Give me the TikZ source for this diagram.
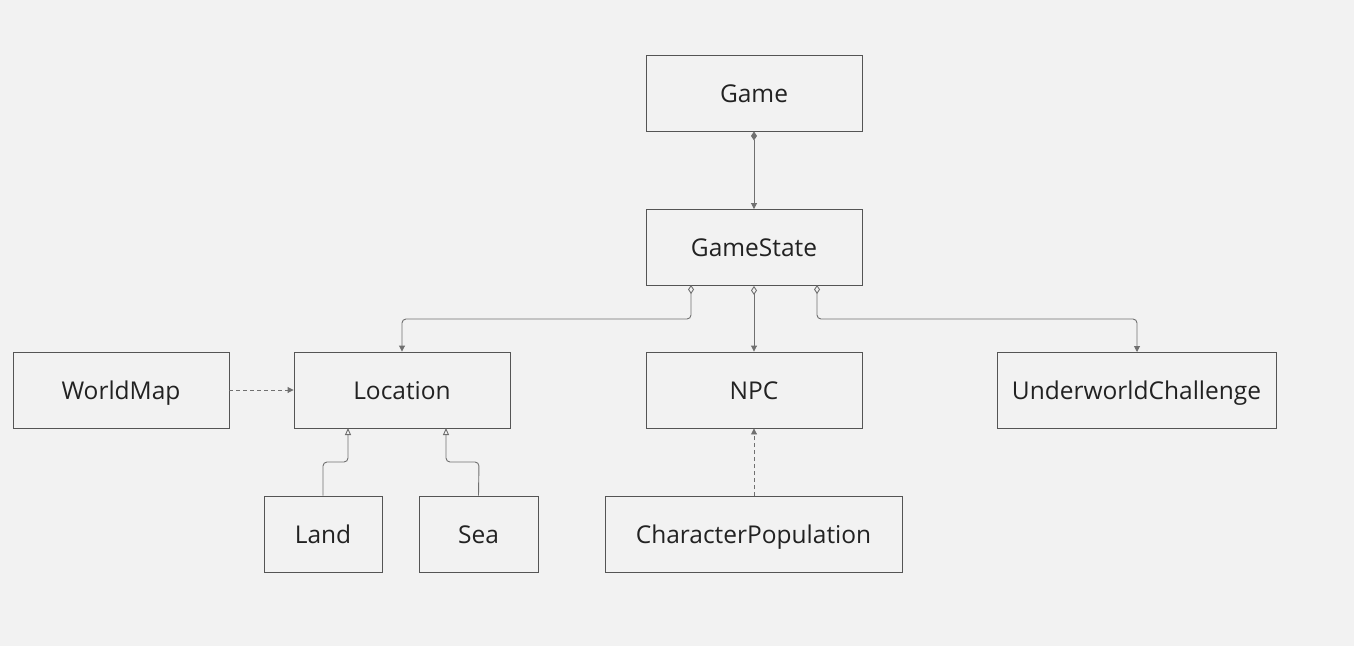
\documentclass[tikz,border=0pt]{standalone}
\usepackage{fontspec}
\setmainfont{Open Sans}
\usetikzlibrary{arrows.meta}
\definecolor{bg}{HTML}{F2F2F2}
\definecolor{boxline}{HTML}{555555}
\definecolor{conn}{HTML}{707070}
\definecolor{txt}{HTML}{222222}
\begin{document}
\begin{tikzpicture}[x=1pt,y=-1pt,
  cls/.style={draw=boxline, line width=0.9pt, fill=bg, minimum height=76pt, inner sep=0pt, text=txt, text height=18pt, text depth=0pt, font=\fontsize{24.5}{28}\selectfont},
  link/.style={draw=conn, line width=0.9pt, rounded corners=4pt},
  tipa/.tip={Triangle[width=6pt,length=6pt]},
  comp/.tip={Diamond[width=6pt,length=9pt]},
  aggr/.tip={Diamond[open,width=6pt,length=9pt,fill=bg]},
  inh/.tip={Triangle[open,width=6pt,length=7pt,fill=bg]}
]
\fill[bg] (0,0) rectangle (1354,646);
\useasboundingbox (0,0) rectangle (1354,646);

\node[cls, minimum width=216pt] (game) at (754,93) {Game};
\node[cls, minimum width=216pt] (gs) at (754,247.5) {GameState};
\node[cls, minimum width=216pt] (wm) at (121,390) {WorldMap};
\node[cls, minimum width=216pt] (loc) at (402,390) {Location};
\node[cls, minimum width=216pt] (npc) at (754,390) {NPC};
\node[cls, minimum width=279pt] (uc) at (1136.5,390) {UnderworldChallenge};
\node[cls, minimum width=118pt] (land) at (323,534) {Land};
\node[cls, minimum width=119pt] (sea) at (478.5,534) {Sea};
\node[cls, minimum width=297pt] (cp) at (753.5,534) {CharacterPopulation};

\coordinate (gsL) at (691,285);
\coordinate (gsR) at (817,285);
\coordinate (locL) at (348,428);
\coordinate (locR) at (446,428);

\draw[link, comp-tipa] (game.south) -- (gs.north);
\draw[link, aggr-tipa] (gsL) -- (691,319) -- (402,319) -- (loc.north);
\draw[link, aggr-tipa] (gs.south) -- (npc.north);
\draw[link, aggr-tipa] (gsR) -- (817,319) -- (1137,319) -- (1137,352);
\draw[link, dashed, dash pattern=on 4pt off 3pt, -tipa] (wm.east) -- (loc.west);
\draw[link, -inh] (land.north) -- (323,462) -- (348,462) -- (locL);
\draw[link, -inh] (sea.north) -- (479,462) -- (446,462) -- (locR);
\draw[link, dashed, dash pattern=on 4pt off 3pt, -tipa] (754,496) -- (npc.south);
\end{tikzpicture}
\end{document}
